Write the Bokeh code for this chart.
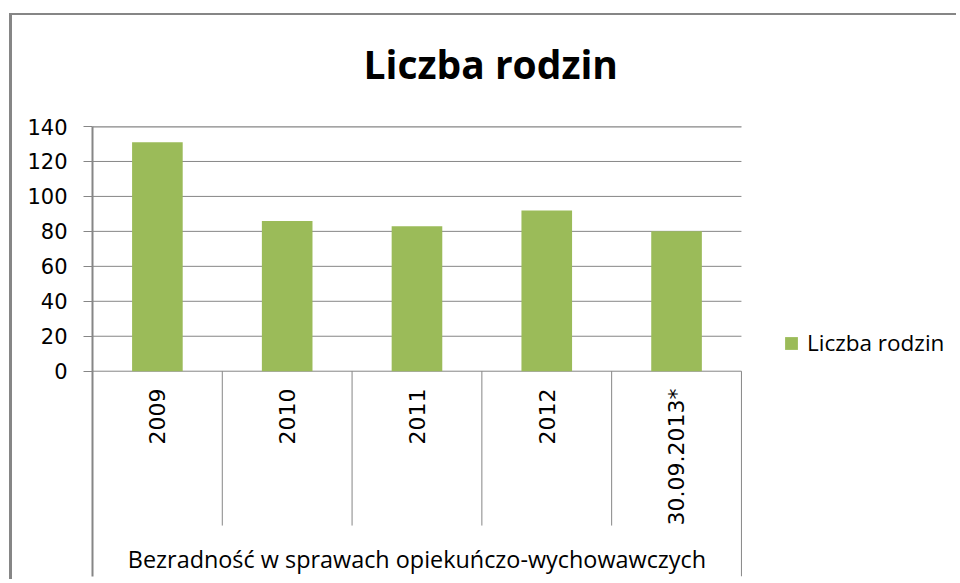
from bokeh.plotting import figure
from bokeh.models import (ColumnDataSource, Range1d, FixedTicker, Legend, LegendItem)
from bokeh.core.properties import value
from bokeh.embed import file_html
from bokeh.resources import INLINE
import math

# ---- data ----
categories = ["2009", "2010", "2011", "2012", "30.09.2013*"]
values = [131, 86, 83, 92, 80]
y_ticks = [0, 20, 40, 60, 80, 100, 120, 140]
group_label = "Bezradność w sprawach opiekuńczo-wychowawczych"
title_text = "Liczba rodzin"
series_name = "Liczba rodzin"

BAR = "#9BBB59"
GRID = "#868686"

n = len(categories)
xpos = [i + 0.5 for i in range(n)]          # category centres on the x scale
bounds = list(range(1, n))                  # category separators
src = ColumnDataSource(dict(x=xpos, cat=categories, val=values))

p = figure(width=956, height=579,
           x_range=Range1d(0, 6.657),
           y_range=Range1d(-117.45, 140),
           x_axis_location=None,
           output_backend="svg", toolbar_location=None,
           min_border_left=92, min_border_right=0,
           min_border_top=126, min_border_bottom=3)
# outer chart border (top and left edges) drawn behind a transparent canvas
p.styles = {
    "background": ("linear-gradient(#868686,#868686) 9px 13px / 947px 2px no-repeat, "
                   "linear-gradient(#868686,#868686) 9px 13px / 3px 566px no-repeat, "
                   "white"),
}
p.outline_line_color = None
p.background_fill_color = "white"
p.border_fill_alpha = 0
p.grid.visible = False

# title
p.title.text = title_text
p.title.align = "left"
p.title.offset = 271
p.title.vertical_align = "top"
p.title.standoff = 70
p.title.text_font = "Open Sans"
p.title.text_font_style = "bold"
p.title.text_font_size = "39px"
p.title.text_color = "black"

# y axis
ya = p.yaxis[0]
ya.ticker = FixedTicker(ticks=y_ticks)
ya.major_tick_out = 9
ya.major_tick_in = 0
ya.minor_tick_line_color = None
ya.axis_line_color = GRID
ya.axis_line_width = 2
ya.major_tick_line_color = GRID
ya.major_label_text_font = "DejaVu Sans"
ya.major_label_text_font_size = "21px"
ya.major_label_text_color = "black"
ya.major_label_standoff = 16

# horizontal gridlines across the category area
p.segment(x0=[0] * len(y_ticks), y0=y_ticks, x1=[n] * len(y_ticks), y1=y_ticks,
          line_color=GRID, line_width=1)
p.segment(x0=[0], y0=[y_ticks[-1]], x1=[n], y1=[y_ticks[-1]],
          line_color=GRID, line_width=2)

bars = p.vbar(x="x", top="val", width=0.39, source=src,
              fill_color=BAR, line_color=None)

# category separators and right edge below the zero line
p.segment(x0=bounds, y0=[0] * len(bounds), x1=bounds, y1=[-88.3] * len(bounds),
          line_color=GRID, line_width=1)
p.segment(x0=[n], y0=[0], x1=[n], y1=[-117.45], line_color=GRID, line_width=1)

# rotated category labels
p.text(x="x", y=-9.9, text="cat", source=src, angle=math.pi / 2,
       text_align="right", text_baseline="middle",
       text_font=value("DejaVu Sans"), text_font_size="22px",
       text_color="black")

# group label
p.text(x=[n / 2], y=[-107.7], text=[group_label],
       text_align="center", text_baseline="alphabetic",
       text_font=value("Open Sans"), text_font_size="23.4px",
       text_color="black")

# legend
legend = Legend(items=[LegendItem(label=series_name, renderers=[bars])],
                location=(691, 218), border_line_color=None,
                background_fill_alpha=0, padding=0, margin=0,
                glyph_width=16, glyph_height=16, label_standoff=8,
                label_height=16,
                label_text_font="Open Sans", label_text_font_size="22.5px",
                label_text_color="black")
p.add_layout(legend)

open("out.html", "w").write(file_html(p, INLINE))
